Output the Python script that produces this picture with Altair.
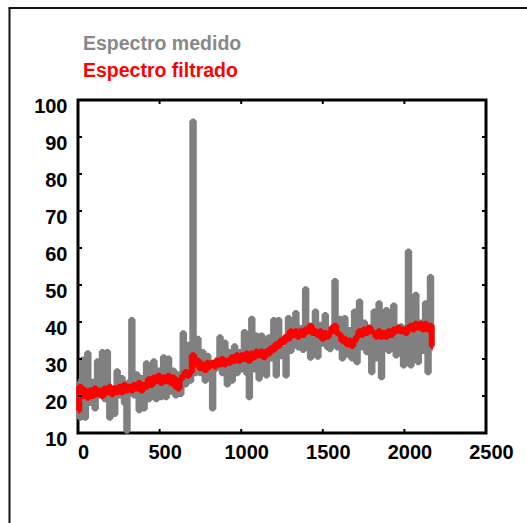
import altair as alt
import pandas as pd

# Spectrum samples, one every STEP units along the x axis
STEP = 15

medido = [
    24, 14, 30, 14, 31.7, 18, 24, 16.5, 29.5, 20,
    32, 19, 32, 14, 22, 15, 26.8, 20, 25, 18,
    10.5, 24, 40.7, 20, 26, 16, 25, 16.5, 29, 19,
    25, 29.5, 19, 27, 19.5, 30.6, 19.5, 30.3, 21, 27,
    20, 26, 20.4, 37.1, 23, 34, 24, 94.3, 26, 35.6,
    26, 32, 24, 31, 25, 16.5, 27, 30, 36, 26,
    34.6, 23, 32, 24, 33.6, 26, 32, 27, 37.4, 26,
    19.5, 41, 27, 36.5, 24.5, 36.5, 27, 25.4, 36, 30,
    40.7, 25.4, 40.7, 30.6, 33, 25.4, 41.2, 32, 38, 42.6,
    33, 38.5, 32.3, 49, 34, 30.2, 39, 43, 30.5, 39.4,
    34, 42, 33, 32.5, 38, 51.2, 33, 41, 30, 41.2,
    31, 38, 30, 43, 29, 45.7, 33, 40, 31.7, 38,
    26.3, 43, 30, 45.2, 24.9, 37, 43.4, 32, 38, 44.6,
    30.8, 31.3, 39, 28.1, 38, 59.2, 28.1, 38, 47.5, 29,
    40, 32, 45.2, 26.3, 52.3, 33,
]

filtrado = [
    16, 22.5, 20, 21.5, 19.5, 21.5, 20, 22, 20.5, 21.5,
    20, 22, 21, 22.5, 20.5, 22, 21, 22.5, 21, 23,
    21.5, 22.5, 21.5, 23, 22, 23.5, 21.5, 23, 22.5, 24.5,
    23, 25, 24, 25.5, 23.5, 25, 24, 25.5, 23.5, 25,
    22.5, 22, 24.5, 25.5, 26.5, 25.5, 26.5, 31, 28.5, 29.5,
    27.5, 28.5, 27, 29, 28, 29, 28, 29.5, 28.5, 30,
    28.5, 29.5, 29, 30.5, 29.5, 31, 29.5, 31, 30, 31.5,
    29.5, 31.5, 30.5, 32, 31, 32, 30.5, 32, 31.5, 33,
    32.5, 34, 33.5, 35, 34.5, 36, 35.5, 37.5, 36.5, 37.5,
    36, 37.5, 36.5, 38, 37.5, 39, 37, 37.5, 36.5, 37.5,
    35.5, 37, 36, 37, 38.5, 39, 37, 36.5, 35, 35.5,
    34, 35, 33.5, 35, 36, 37.5, 36.5, 38, 37, 38.5,
    37.5, 37, 36, 37.5, 36, 37, 36, 37.5, 36.5, 38,
    37.5, 38.5, 37.5, 38, 37, 38.5, 39, 38, 39.5, 38.5,
    39.5, 38, 39.5, 38, 39, 33.5,
]

x_ticks = [0, 500, 1000, 1500, 2000, 2500]
y_ticks = [10, 20, 30, 40, 50, 60, 70, 80, 90, 100]
x_inner_ticks = [500, 1000, 1500, 2000]
y_inner_ticks = [20, 30, 40, 50, 60, 70, 80, 90]

W, H = 408, 333
FONT = "Liberation Sans"

df = pd.DataFrame({
    "x": [i * STEP for i in range(len(medido))],
    "medido": medido,
    "filtrado": filtrado,
})
xt = pd.DataFrame({"v": x_inner_ticks})
yt = pd.DataFrame({"v": y_inner_ticks})

xs = alt.Scale(domain=[0, 2500], nice=False, zero=False)
ys = alt.Scale(domain=[10, 100], nice=False, zero=False)

xaxis = alt.Axis(values=x_ticks, title=None, grid=False, domain=False, ticks=False,
                 format="d",
                 labelFont=FONT, labelFontSize=20, labelFontWeight="bold",
                 labelColor="black", labelPadding=9, labelOffset=5,
                 labelFlush=False, labelOverlap=False)
yaxis = alt.Axis(values=y_ticks, title=None, grid=False, domain=False, ticks=False,
                 format="d",
                 labelFont=FONT, labelFontSize=20, labelFontWeight="bold",
                 labelColor="black", labelPadding=11, labelOffset=6,
                 labelFlush=False, labelOverlap=False)

base = alt.Chart(df)

gray = base.mark_line(color="#808080", strokeWidth=5, strokeJoin="bevel",
                      interpolate="step").encode(
    x=alt.X("x:Q", scale=xs, axis=xaxis),
    y=alt.Y("medido:Q", scale=ys, axis=yaxis),
)
red = base.mark_line(color="#ff0000", strokeWidth=6, strokeJoin="bevel",
                     interpolate="step").encode(
    x=alt.X("x:Q", scale=xs, axis=xaxis),
    y=alt.Y("filtrado:Q", scale=ys, axis=yaxis),
)

# inward tick marks on all four sides of the frame
tick_style = dict(color="black", strokeWidth=2)
left_ticks = alt.Chart(yt).mark_rule(**tick_style).encode(
    y=alt.Y("v:Q", scale=ys, axis=yaxis), x=alt.value(0), x2=alt.value(4))
right_ticks = alt.Chart(yt).mark_rule(**tick_style).encode(
    y=alt.Y("v:Q", scale=ys, axis=yaxis), x=alt.value(W), x2=alt.value(W - 4))
bottom_ticks = alt.Chart(xt).mark_rule(**tick_style).encode(
    x=alt.X("v:Q", scale=xs, axis=xaxis), y=alt.value(H), y2=alt.value(H - 4))
top_ticks = alt.Chart(xt).mark_rule(**tick_style).encode(
    x=alt.X("v:Q", scale=xs, axis=xaxis), y=alt.value(0), y2=alt.value(4))

# legend text above the plot
leg_medido = alt.Chart(pd.DataFrame({"t": ["Espectro medido"]})).mark_text(
    font=FONT, fontSize=19.5, fontWeight="bold", color="#888888",
    align="left", baseline="alphabetic").encode(
    x=alt.value(5), y=alt.value(-50), text="t:N")
leg_filtrado = alt.Chart(pd.DataFrame({"t": ["Espectro filtrado"]})).mark_text(
    font=FONT, fontSize=19.5, fontWeight="bold", color="#ff0000",
    align="left", baseline="alphabetic").encode(
    x=alt.value(5), y=alt.value(-23), text="t:N")

# outer figure frame (left and top edges)
frame_left = alt.Chart(pd.DataFrame({"a": [0]})).mark_rule(
    color="#1a1010", strokeWidth=2).encode(
    x=alt.value(-68.5), y=alt.value(-92), y2=alt.value(430))
frame_top = alt.Chart(pd.DataFrame({"a": [0]})).mark_rule(
    color="#1a1010", strokeWidth=2).encode(
    x=alt.value(-69.5), x2=alt.value(460), y=alt.value(-92))

chart = alt.layer(
    frame_left, frame_top, gray, red,
    left_ticks, right_ticks, bottom_ticks, top_ticks,
    leg_medido, leg_filtrado,
).properties(
    width=W, height=H,
    background="white",
    autosize=alt.AutoSizeParams(type="none"),
    padding={"left": 78, "top": 100, "right": 41, "bottom": 90},
).configure_view(
    stroke="black", strokeWidth=3,
)

chart.save("out.html", embed_options={"renderer": "svg", "actions": False})
